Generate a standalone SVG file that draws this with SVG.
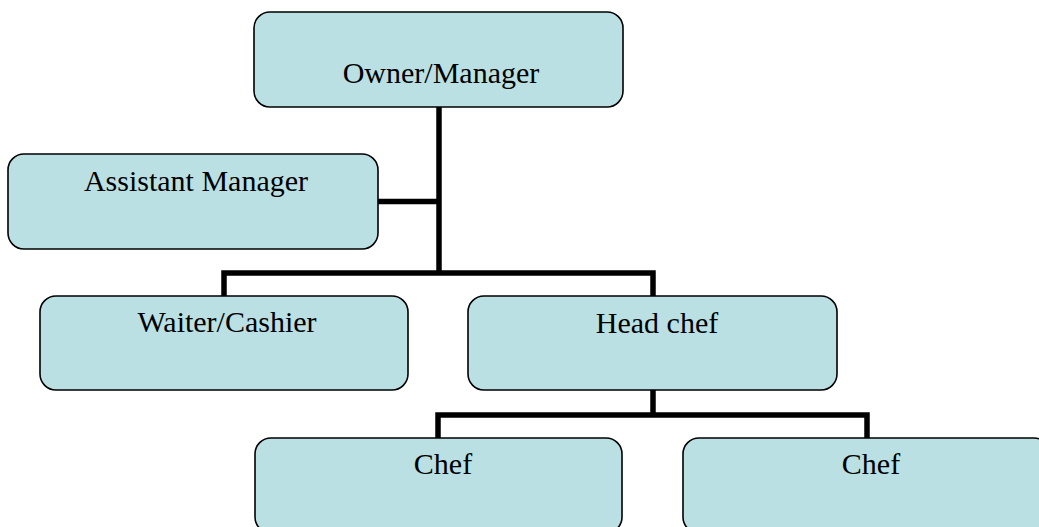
<svg xmlns="http://www.w3.org/2000/svg" width="1039" height="527" viewBox="0 0 1039 527">
<style>
.box{fill:#BBE0E3;stroke:#000;stroke-width:1.6}
.lbl{font-family:"Liberation Serif","Times New Roman",serif;font-size:30px;fill:#000;text-anchor:middle}
.conn{fill:none;stroke:#000;stroke-width:5.5;stroke-linejoin:miter;stroke-linecap:butt}
</style>
<rect width="1039" height="527" fill="#fff"/>
<g id="connectors" class="conn">
<path d="M439 107 V273"/>
<path d="M378 201.5 H439"/>
<path d="M224 296 V273 H653 V296"/>
<path d="M653 390 V415"/>
<path d="M438 438 V415 H867 V438"/>
</g>
<g id="owner"><rect class="box" x="254" y="12" width="369" height="95" rx="16"/><text class="lbl" x="441" y="83">Owner/Manager</text></g>
<g id="assistant"><rect class="box" x="8" y="154" width="370" height="95" rx="16"/><text class="lbl" x="196" y="191">Assistant Manager</text></g>
<g id="waiter"><rect class="box" x="40" y="296" width="368" height="94" rx="16"/><text class="lbl" x="227" y="332">Waiter/Cashier</text></g>
<g id="headchef"><rect class="box" x="468" y="296" width="369" height="94" rx="16"/><text class="lbl" x="657" y="333">Head chef</text></g>
<g id="chef1"><rect class="box" x="255" y="438" width="367" height="95" rx="16"/><text class="lbl" x="443" y="474">Chef</text></g>
<g id="chef2"><rect class="box" x="683" y="438" width="367" height="95" rx="16"/><text class="lbl" x="871" y="474">Chef</text></g>
</svg>
